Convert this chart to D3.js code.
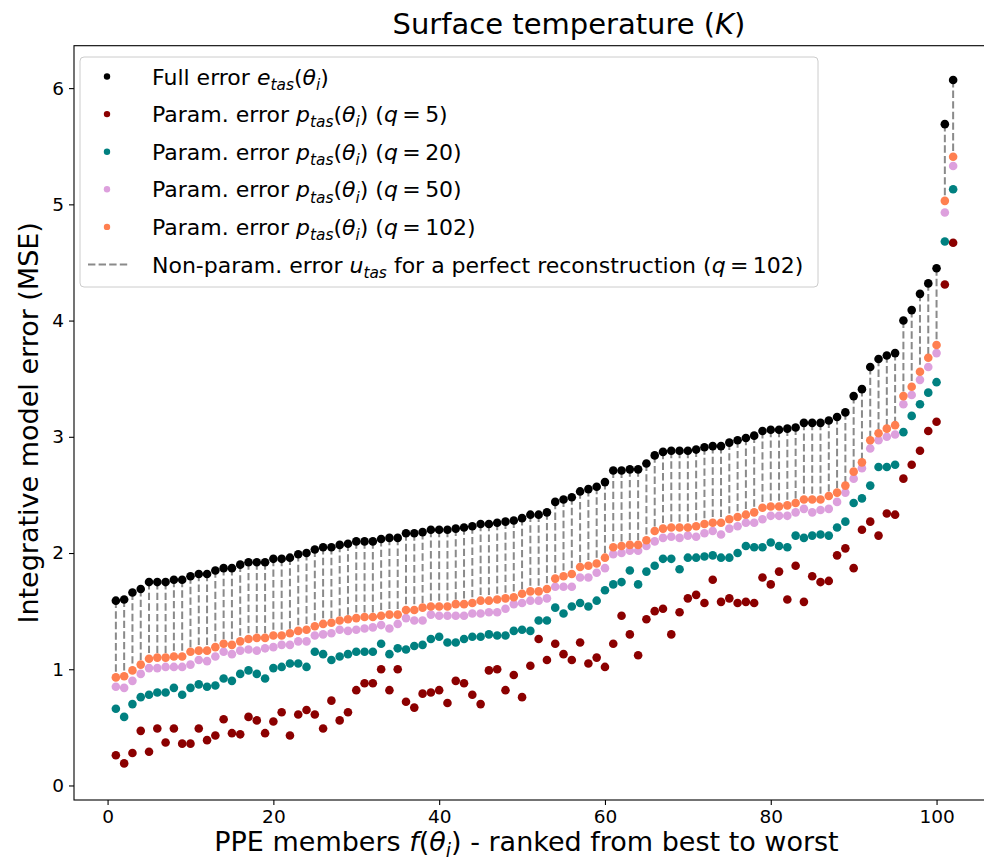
<!DOCTYPE html>
<html><head><meta charset="utf-8">
<script src="https://cdn.jsdelivr.net/npm/d3@7"></script>
<style>body{margin:0;background:#fff}svg{display:block;font-family:"DejaVu Sans",sans-serif}</style>
</head><body><div id="chart"></div>
<script>
// ---- data ----
const members = d3.range(1, 103); // PPE members ranked 1..102
const fullError = [1.59,1.60,1.66,1.69,1.75,1.75,1.75,1.77,1.77,1.80,
 1.82,1.82,1.85,1.87,1.87,1.90,1.92,1.92,1.92,1.95,
 1.95,1.96,1.99,2.00,2.03,2.05,2.05,2.07,2.08,2.10,
 2.10,2.10,2.12,2.13,2.13,2.17,2.17,2.18,2.20,2.20,
 2.20,2.21,2.22,2.23,2.25,2.25,2.26,2.27,2.28,2.30,
 2.33,2.33,2.35,2.44,2.46,2.48,2.53,2.55,2.57,2.61,
 2.71,2.71,2.72,2.72,2.77,2.84,2.87,2.88,2.88,2.88,
 2.89,2.91,2.92,2.92,2.95,2.97,2.99,3.01,3.05,3.06,
 3.06,3.07,3.08,3.12,3.12,3.12,3.14,3.17,3.21,3.35,
 3.41,3.60,3.67,3.70,3.72,4.00,4.09,4.23,4.32,4.45,
 5.69,6.07];
const paramQ5 = [0.26,0.19,0.28,0.47,0.29,0.49,0.37,0.49,0.36,0.36,
 0.49,0.39,0.43,0.57,0.45,0.44,0.59,0.56,0.45,0.55,
 0.63,0.43,0.61,0.65,0.61,0.49,0.73,0.56,0.63,0.82,
 0.88,0.88,1.00,0.82,1.00,0.72,0.67,0.79,0.80,0.82,
 0.71,0.90,0.88,0.78,0.70,0.99,1.00,0.82,0.95,0.76,
 1.03,1.26,1.08,1.22,1.13,1.08,1.23,1.05,1.10,1.02,
 1.22,1.46,1.30,1.12,1.43,1.50,1.52,1.30,1.49,1.61,
 1.64,1.57,1.77,1.58,1.61,1.57,1.58,1.57,1.79,1.73,
 1.84,1.60,1.89,1.58,1.80,1.75,1.76,1.98,2.04,1.87,
 2.20,2.27,2.15,2.34,2.33,2.64,2.76,2.88,3.05,3.13,
 4.31,4.67];
const paramQ20 = [0.66,0.59,0.70,0.76,0.78,0.80,0.80,0.84,0.78,0.84,
 0.87,0.85,0.86,0.92,0.90,0.96,0.99,0.96,0.92,1.01,
 1.02,1.05,1.05,1.02,1.15,1.13,1.08,1.11,1.13,1.15,
 1.15,1.15,1.22,1.13,1.18,1.17,1.20,1.21,1.26,1.28,
 1.23,1.23,1.26,1.28,1.28,1.30,1.29,1.29,1.33,1.34,
 1.33,1.42,1.42,1.53,1.48,1.54,1.57,1.54,1.59,1.68,
 1.73,1.75,1.85,1.73,1.84,1.89,1.95,1.95,1.86,1.96,
 1.96,1.97,1.98,1.96,1.96,2.00,2.06,2.05,2.05,2.09,
 2.06,2.05,2.15,2.13,2.15,2.16,2.15,2.22,2.27,2.43,
 2.47,2.58,2.74,2.74,2.76,3.04,3.18,3.28,3.38,3.47,
 4.68,5.13];
const paramQ50 = [0.85,0.84,0.90,0.96,1.01,1.01,1.02,1.02,1.02,1.04,
 1.08,1.07,1.11,1.15,1.13,1.16,1.17,1.16,1.18,1.19,
 1.21,1.21,1.24,1.24,1.29,1.30,1.31,1.34,1.33,1.34,
 1.35,1.36,1.38,1.35,1.39,1.44,1.42,1.42,1.47,1.46,
 1.46,1.46,1.46,1.48,1.48,1.49,1.49,1.52,1.56,1.57,
 1.59,1.59,1.61,1.71,1.71,1.71,1.79,1.79,1.83,1.87,
 1.99,2.00,2.02,2.02,2.06,2.10,2.13,2.14,2.13,2.15,
 2.14,2.17,2.19,2.16,2.21,2.23,2.26,2.26,2.29,2.32,
 2.32,2.32,2.35,2.38,2.35,2.37,2.38,2.44,2.52,2.64,
 2.73,2.90,2.97,3.00,3.02,3.28,3.36,3.49,3.60,3.72,
 4.93,5.33];
const paramQ102 = [0.93,0.94,0.99,1.04,1.09,1.10,1.10,1.11,1.11,1.15,
 1.16,1.16,1.19,1.22,1.21,1.24,1.26,1.27,1.27,1.29,
 1.29,1.31,1.33,1.34,1.37,1.39,1.40,1.42,1.43,1.44,
 1.45,1.45,1.46,1.47,1.47,1.51,1.51,1.53,1.54,1.54,
 1.54,1.56,1.56,1.57,1.59,1.59,1.60,1.61,1.62,1.65,
 1.67,1.67,1.69,1.78,1.80,1.82,1.88,1.89,1.91,1.96,
 2.05,2.06,2.07,2.07,2.11,2.19,2.21,2.22,2.22,2.22,
 2.23,2.25,2.26,2.26,2.29,2.31,2.33,2.35,2.39,2.40,
 2.40,2.41,2.43,2.46,2.46,2.46,2.49,2.52,2.58,2.70,
 2.78,2.97,3.03,3.07,3.10,3.35,3.43,3.56,3.68,3.79,
 5.03,5.41];
const xTicks = [0, 20, 40, 60, 80, 100];
const yTicks = [0, 1, 2, 3, 4, 5, 6];

// ---- layout ----
const W = 984, H = 863;
const m = {left: 74, right: 995, top: 45.7, bottom: 800};
const FONT = '"DejaVu Sans", sans-serif';

const svg = d3.select('#chart').append('svg').attr('width', W).attr('height', H);
svg.append('rect').attr('width', W).attr('height', H).attr('fill', '#fff');

const x = d3.scaleLinear().domain([-4.05, 107.05]).range([m.left, m.right]);
const y = d3.scaleLinear().domain([-0.125, 6.365]).range([m.bottom, m.top]);

function rich(sel, segs, fs) {
  let shifted = 0;
  segs.forEach(s => {
    const sp = sel.append('tspan').text(s.t);
    if (s.i) sp.style('font-style', 'italic');
    const target = s.sub ? fs * 0.24 : 0;
    if (target !== shifted) { sp.attr('dy', target - shifted); shifted = target; }
    sp.style('font-size', (s.sub ? fs * 0.7 : fs) + 'px');
  });
  return sel;
}

const series = [
  {data: fullError, color: '#000000'},
  {data: paramQ5, color: '#8b0000'},
  {data: paramQ20, color: '#008080'},
  {data: paramQ50, color: '#dda0dd'},
  {data: paramQ102, color: '#ff7f50'}
];

const plot = svg.append('g');
// dashed non-param error lines
plot.append('g').selectAll('line').data(members).join('line')
  .attr('x1', d => x(d)).attr('x2', d => x(d))
  .attr('y1', (d, i) => y(fullError[i])).attr('y2', (d, i) => y(paramQ102[i]))
  .attr('stroke', '#8a8a8a').attr('stroke-width', 2).attr('stroke-dasharray', '7.4,3.2');

series.forEach(s => {
  plot.append('g').selectAll('circle').data(members).join('circle')
    .attr('cx', d => x(d)).attr('cy', (d, i) => y(s.data[i]))
    .attr('r', 4.3).attr('fill', s.color);
});

// axes
const xAxis = svg.append('g').attr('transform', `translate(0,${m.bottom})`)
  .call(d3.axisBottom(x).tickValues(xTicks).tickFormat(d3.format('d')).tickSize(5).tickPadding(5));
const yAxis = svg.append('g').attr('transform', `translate(${m.left},0)`)
  .call(d3.axisLeft(y).tickValues(yTicks).tickFormat(d3.format('d')).tickSize(5).tickPadding(5));
[xAxis, yAxis].forEach(a => {
  a.select('.domain').remove();
  a.selectAll('.tick line').attr('stroke', '#000').attr('stroke-width', 1.1);
  a.selectAll('.tick text').attr('fill', '#000').style('font-size', '18.5px').style('font-family', FONT);
});
// spines
svg.append('rect').attr('x', m.left).attr('y', m.top)
  .attr('width', m.right - m.left).attr('height', m.bottom - m.top)
  .attr('fill', 'none').attr('stroke', '#000').attr('stroke-width', 1.1);

// title and labels
rich(svg.append('text').attr('x', 569).attr('y', 34)
  .attr('text-anchor', 'middle').style('font-family', FONT),
  [{t: 'Surface temperature ('}, {t: 'K', i: 1}, {t: ')'}], 29);
rich(svg.append('text').attr('x', (m.left + m.right) / 2 - 8).attr('y', 851)
  .attr('text-anchor', 'middle').style('font-family', FONT),
  [{t: 'PPE members '}, {t: 'f', i: 1}, {t: '('}, {t: 'θ', i: 1}, {t: 'i', i: 1, sub: 1}, {t: ') - ranked from best to worst'}], 27);
svg.append('text').attr('transform', `translate(38,${(m.top + m.bottom) / 2}) rotate(-90)`)
  .attr('text-anchor', 'middle').style('font-family', FONT).style('font-size', '27px')
  .text('Integrative model error (MSE)');

// legend
const lg = svg.append('g');
lg.append('rect').attr('x', 80).attr('y', 57).attr('width', 738).attr('height', 230)
  .attr('rx', 4).attr('fill', 'rgba(255,255,255,0.8)').attr('stroke', '#cccccc').attr('stroke-width', 1);
const LFS = 22;
const legendItems = [
  {color: '#000000', segs: [{t: 'Full error '}, {t: 'e', i: 1}, {t: 'tas', i: 1, sub: 1}, {t: '('}, {t: 'θ', i: 1}, {t: 'i', i: 1, sub: 1}, {t: ')'}]},
  {color: '#8b0000', segs: [{t: 'Param. error '}, {t: 'p', i: 1}, {t: 'tas', i: 1, sub: 1}, {t: '('}, {t: 'θ', i: 1}, {t: 'i', i: 1, sub: 1}, {t: ') ('}, {t: 'q', i: 1}, {t: '\u2009=\u20095)'}]},
  {color: '#008080', segs: [{t: 'Param. error '}, {t: 'p', i: 1}, {t: 'tas', i: 1, sub: 1}, {t: '('}, {t: 'θ', i: 1}, {t: 'i', i: 1, sub: 1}, {t: ') ('}, {t: 'q', i: 1}, {t: '\u2009=\u200920)'}]},
  {color: '#dda0dd', segs: [{t: 'Param. error '}, {t: 'p', i: 1}, {t: 'tas', i: 1, sub: 1}, {t: '('}, {t: 'θ', i: 1}, {t: 'i', i: 1, sub: 1}, {t: ') ('}, {t: 'q', i: 1}, {t: '\u2009=\u200950)'}]},
  {color: '#ff7f50', segs: [{t: 'Param. error '}, {t: 'p', i: 1}, {t: 'tas', i: 1, sub: 1}, {t: '('}, {t: 'θ', i: 1}, {t: 'i', i: 1, sub: 1}, {t: ') ('}, {t: 'q', i: 1}, {t: '\u2009=\u2009102)'}]},
  {dash: true, segs: [{t: 'Non-param. error '}, {t: 'u', i: 1}, {t: 'tas', i: 1, sub: 1}, {t: ' for a perfect reconstruction ('}, {t: 'q', i: 1}, {t: '\u2009=\u2009102)'}]}
];
legendItems.forEach((it, k) => {
  const cy = 76.5 + k * 37.6;
  if (it.dash) {
    lg.append('line').attr('x1', 88).attr('x2', 130).attr('y1', cy).attr('y2', cy)
      .attr('stroke', '#8a8a8a').attr('stroke-width', 2).attr('stroke-dasharray', '7.4,3.2');
  } else {
    lg.append('circle').attr('cx', 107).attr('cy', cy).attr('r', 3.2).attr('fill', it.color);
  }
  rich(lg.append('text').attr('x', 152).attr('y', cy + 8).style('font-family', FONT), it.segs, LFS);
});
</script>
</body></html>
